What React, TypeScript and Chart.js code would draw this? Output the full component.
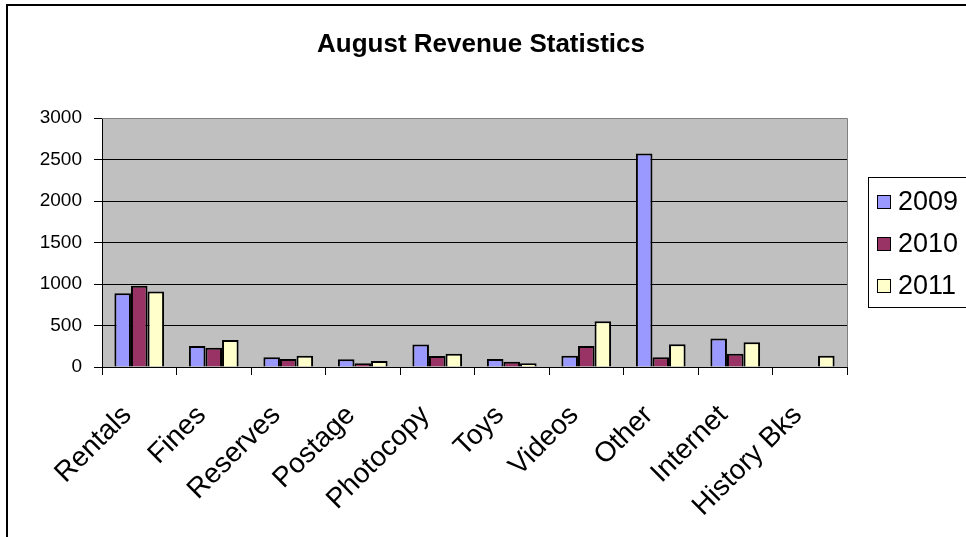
import React, { useEffect, useRef } from "react";
import { Chart, registerables } from "chart.js";

Chart.register(...registerables);

const TITLE = "August Revenue Statistics";
const categories = ["Rentals", "Fines", "Reserves", "Postage", "Photocopy", "Toys", "Videos", "Other", "Internet", "History Bks"];
const seriesNames = ["2009", "2010", "2011"];
const values2009: (number | null)[] = [890, 254, 117, 93, 270, 97, 137, 2572, 342, null];
const values2010: (number | null)[] = [978, 233, 97, 45, 133, 64, 254, 117, 161, null];
const values2011: (number | null)[] = [909, 326, 137, 72, 161, 45, 552, 274, 298, 137];
const yTicks = [0, 500, 1000, 1500, 2000, 2500, 3000];
const seriesColors = ["#9999FF", "#993366", "#FFFFCC"];

const FONT = "'Liberation Sans', Arial, sans-serif";

const decorPlugin = {
  id: "decor",
  beforeDraw(chart: any) {
    const { ctx, chartArea } = chart;
    ctx.save();
    ctx.fillStyle = "#FFFFFF";
    ctx.fillRect(0, 0, chart.width, chart.height);
    ctx.fillStyle = "#C0C0C0";
    ctx.fillRect(chartArea.left, chartArea.top, chartArea.right - chartArea.left, chartArea.bottom - chartArea.top);
    ctx.restore();
  },
  afterDraw(chart: any) {
    const { ctx, chartArea } = chart;
    ctx.save();
    // plot area right / top border
    ctx.strokeStyle = "#808080";
    ctx.lineWidth = 1;
    ctx.beginPath();
    ctx.moveTo(chartArea.left, chartArea.top + 0.5);
    ctx.lineTo(chartArea.right + 0.5, chartArea.top + 0.5);
    ctx.lineTo(chartArea.right + 0.5, chartArea.bottom);
    ctx.stroke();

    // outer frame
    ctx.strokeStyle = "#000000";
    ctx.lineWidth = 2;
    ctx.beginPath();
    ctx.moveTo(7, chart.height + 2);
    ctx.lineTo(7, 5);
    ctx.lineTo(chart.width + 2, 5);
    ctx.stroke();

    // title
    ctx.fillStyle = "#000000";
    ctx.font = `bold 26px ${FONT}`;
    ctx.textAlign = "center";
    ctx.textBaseline = "middle";
    ctx.fillText(TITLE, 481, 45);

    // legend
    const lx = 868, ly = 177, lw = 110, lh = 130;
    ctx.lineWidth = 1;
    ctx.strokeStyle = "#000000";
    ctx.strokeRect(lx + 0.5, ly + 0.5, lw, lh);
    ctx.font = `27px ${FONT}`;
    ctx.textAlign = "left";
    chart.data.datasets.forEach((ds: any, i: number) => {
      const cy = 202 + i * 42;
      ctx.fillStyle = ds.backgroundColor;
      ctx.fillRect(877, cy - 7, 14, 14);
      ctx.strokeStyle = "#000000";
      ctx.strokeRect(877.5, cy - 6.5, 13, 13);
      ctx.fillStyle = "#000000";
      ctx.fillText(ds.label, 898, cy + 1);
    });
    ctx.restore();
  },
};

export default function App() {
  const ref = useRef<HTMLCanvasElement | null>(null);

  useEffect(() => {
    if (!ref.current) return;
    const seriesValues = [values2009, values2010, values2011];
    const chart = new Chart(ref.current, {
      type: "bar",
      data: {
        labels: categories,
        datasets: seriesNames.map((name, i) => ({
          label: name,
          data: seriesValues[i],
          backgroundColor: seriesColors[i],
          borderColor: "#000000",
          borderWidth: 2,
          borderSkipped: "start",
          categoryPercentage: 0.667,
          barPercentage: 1,
        })),
      },
      options: {
        animation: false,
        responsive: false,
        maintainAspectRatio: false,
        layout: { padding: { top: 118, right: 119, bottom: 0, left: 0 } },
        plugins: {
          legend: { display: false },
          title: { display: false },
          tooltip: { enabled: false },
        },
        scales: {
          x: {
            offset: true,
            grid: {
              offset: true,
              drawOnChartArea: false,
              drawTicks: true,
              tickLength: 8,
              color: "#000000",
              lineWidth: 1,
            },
            border: { display: true, color: "#000000", width: 1 },
            ticks: {
              autoSkip: false,
              maxRotation: 45,
              minRotation: 45,
              padding: 24,
              labelOffset: -12,
              color: "#000000",
              font: { family: FONT, size: 28 },
            },
            afterFit(scale: any) {
              scale.height = 170;
            },
          },
          y: {
            min: 0,
            max: 3000,
            afterBuildTicks(scale: any) {
              scale.ticks = yTicks.map((v) => ({ value: v }));
            },
            grid: {
              color: (c: any) => (c.tick && c.tick.value === 3000 ? "#808080" : "#000000"),
              tickColor: "#000000",
              drawTicks: true,
              tickLength: 8,
              lineWidth: 1,
            },
            border: { display: true, color: "#000000", width: 1 },
            ticks: {
              padding: 12,
              color: "#000000",
              font: { family: FONT, size: 19 },
              callback: (v: any) => String(v),
            },
            afterFit(scale: any) {
              scale.width = 102;
            },
          },
        },
      },
      plugins: [decorPlugin],
    } as any);
    return () => chart.destroy();
  }, []);

  return (
    <div style={{ position: "fixed", left: 0, top: 0, width: 966, height: 537, background: "#fff" }}>
      <canvas ref={ref} width={966} height={537} style={{ display: "block" }} />
    </div>
  );
}
